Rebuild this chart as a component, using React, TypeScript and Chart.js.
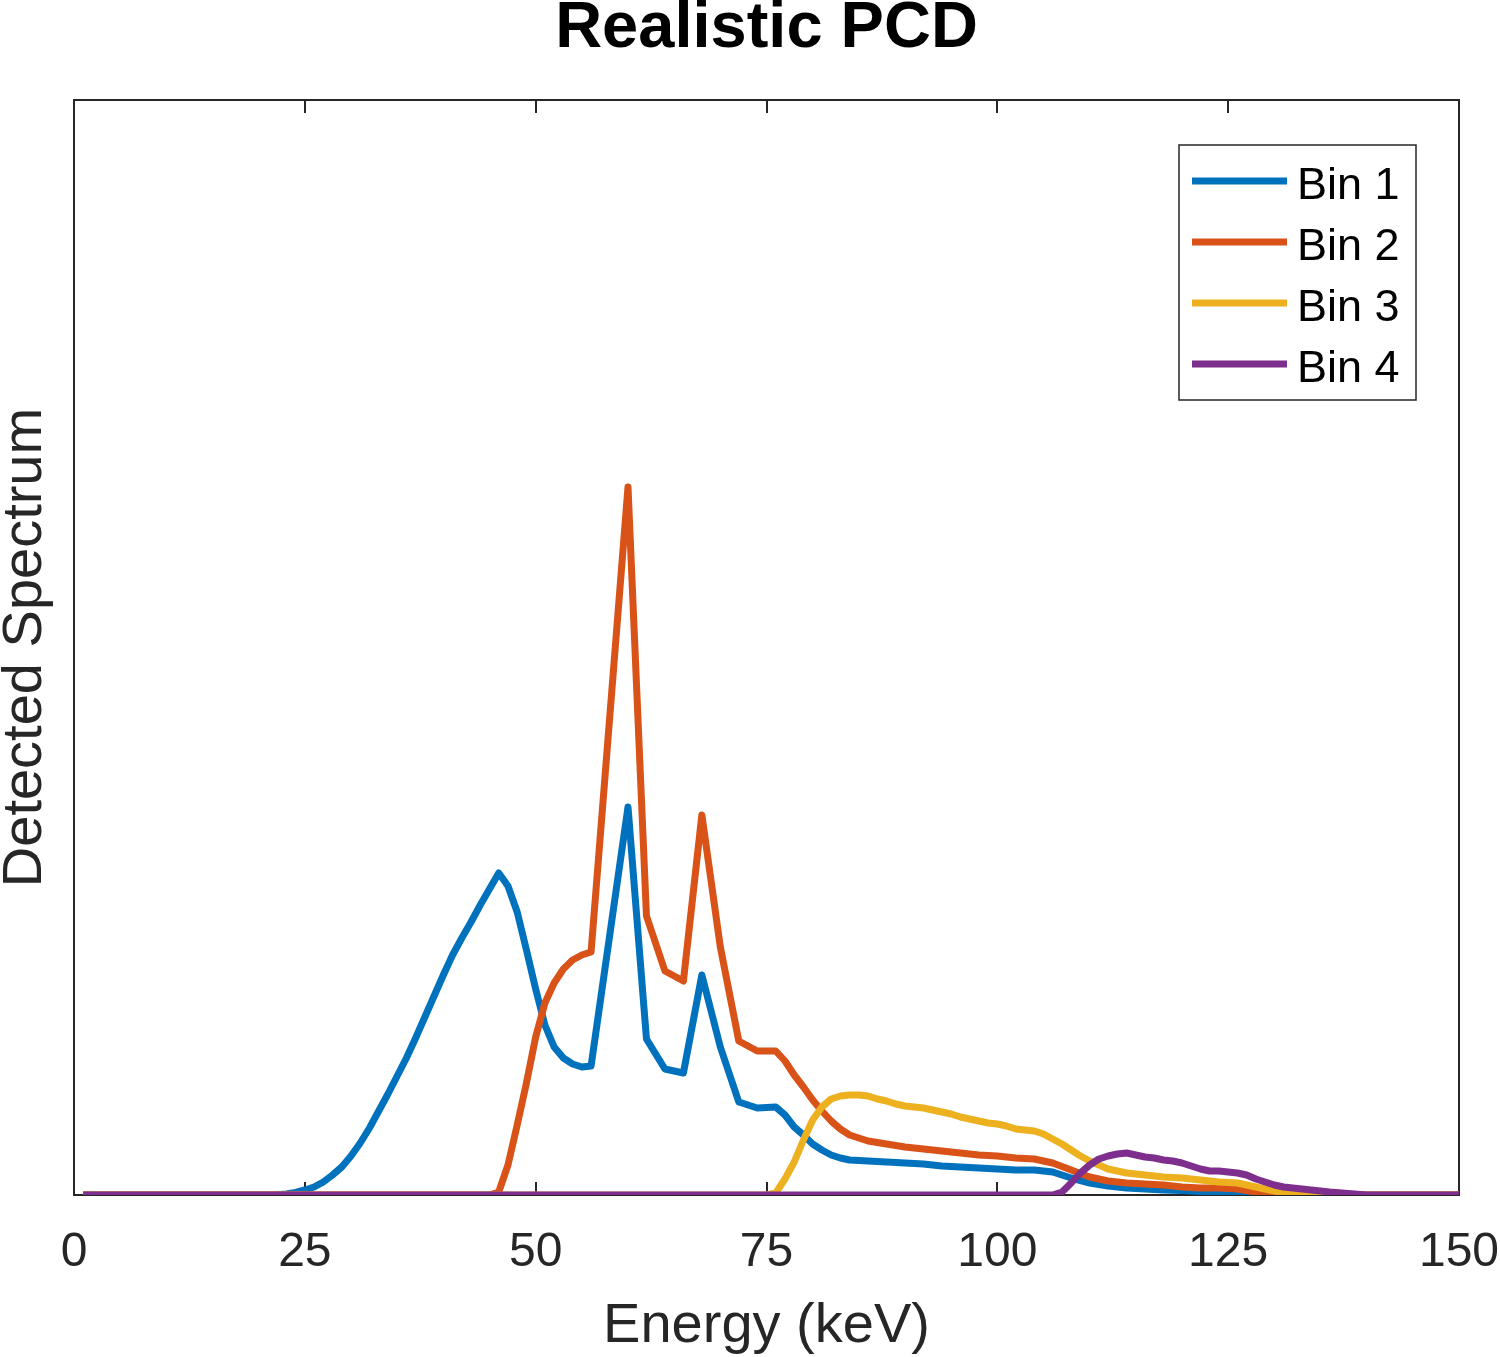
import React, { useEffect, useRef } from "react";
import { Chart, registerables } from "chart.js";

Chart.register(...registerables);

const FONT = '"Liberation Sans", Arial, Helvetica, sans-serif';

const chartTitle = "Realistic PCD";
const xAxisLabel = "Energy (keV)";
const yAxisLabel = "Detected Spectrum";
const xTicks = [0, 25, 50, 75, 100, 125, 150];
const xMin = 0;
const xMax = 150;
const yMax = 109.5;
const seriesLabels = ["Bin 1", "Bin 2", "Bin 3", "Bin 4"];
const seriesColors = ["#0072BD", "#D95319", "#EDB120", "#7E2F8E"];

// Bin 1
const bin1Energy = [1, 21, 22, 23, 24, 25, 26, 27, 28, 29, 30, 31, 32, 33, 34, 35, 36, 37, 38, 39, 40, 41, 42, 43, 44, 45, 46, 47, 48, 49, 50, 51, 52, 53, 54, 55, 56, 60, 62, 64, 66, 68, 70, 72, 74, 76, 77, 78, 79, 80, 81, 82, 83, 84, 86, 88, 90, 92, 94, 96, 98, 100, 102, 104, 106, 108, 110, 112, 114, 116, 118, 120, 122, 124, 126, 128, 130, 150];
const bin1Counts = [0, 0, 0.03, 0.1, 0.25, 0.5, 0.8, 1.3, 2.0, 2.8, 3.9, 5.2, 6.7, 8.4, 10.1, 11.9, 13.7, 15.7, 17.8, 19.9, 22.0, 24.0, 25.7, 27.3, 29.0, 30.6, 32.2, 30.9, 28.3, 24.5, 20.6, 17.0, 14.8, 13.7, 13.1, 12.8, 12.9, 38.8, 15.6, 12.6, 12.2, 22.0, 14.8, 9.3, 8.7, 8.8, 8.0, 6.8, 6.0, 5.1, 4.5, 4.0, 3.7, 3.5, 3.4, 3.3, 3.2, 3.1, 2.9, 2.8, 2.7, 2.6, 2.5, 2.5, 2.3, 1.7, 1.2, 0.9, 0.7, 0.6, 0.5, 0.45, 0.35, 0.25, 0.15, 0.05, 0, 0];

// Bin 2
const bin2Energy = [1, 45, 46, 47, 48, 49, 50, 51, 52, 53, 54, 55, 56, 60, 62, 64, 66, 68, 70, 72, 74, 76, 77, 78, 79, 80, 81, 82, 83, 84, 86, 88, 90, 92, 94, 96, 98, 100, 102, 104, 106, 108, 110, 112, 114, 116, 118, 120, 122, 124, 126, 128, 130, 132, 150];
const bin2Counts = [0, 0, 0.3, 3.0, 7.0, 11.2, 15.8, 19.2, 21.2, 22.6, 23.5, 24.0, 24.3, 70.8, 27.9, 22.4, 21.4, 38.0, 24.8, 15.4, 14.4, 14.4, 13.4, 12.0, 10.8, 9.5, 8.4, 7.4, 6.6, 6.0, 5.4, 5.1, 4.8, 4.6, 4.4, 4.2, 4.0, 3.9, 3.7, 3.6, 3.2, 2.5, 1.8, 1.4, 1.2, 1.1, 1.0, 0.8, 0.7, 0.7, 0.6, 0.3, 0.1, 0, 0];

// Bin 3
const bin3Energy = [1, 75, 76, 77, 78, 79, 80, 81, 82, 83, 84, 85, 86, 87, 88, 89, 90, 91, 92, 93, 94, 95, 96, 97, 98, 99, 100, 101, 102, 103, 104, 105, 106, 107, 108, 109, 110, 111, 112, 113, 114, 115, 116, 118, 120, 122, 124, 126, 128, 130, 132, 134, 150];
const bin3Counts = [0, 0, 0.2, 1.6, 3.3, 5.5, 7.5, 8.8, 9.6, 9.9, 10.0, 10.0, 9.9, 9.6, 9.4, 9.1, 8.9, 8.8, 8.7, 8.5, 8.3, 8.1, 7.8, 7.6, 7.4, 7.2, 7.1, 6.9, 6.6, 6.5, 6.4, 6.1, 5.6, 5.1, 4.5, 3.9, 3.4, 3.0, 2.6, 2.4, 2.2, 2.1, 2.0, 1.8, 1.7, 1.5, 1.3, 1.2, 0.8, 0.4, 0.1, 0, 0];

// Bin 4
const bin4Energy = [1, 106, 107, 108, 109, 110, 111, 112, 113, 114, 115, 116, 117, 118, 119, 120, 121, 122, 123, 124, 125, 126, 127, 128, 129, 130, 131, 132, 134, 136, 138, 140, 150];
const bin4Counts = [0, 0, 0.3, 1.2, 2.2, 3.0, 3.6, 3.9, 4.1, 4.2, 4.0, 3.8, 3.7, 3.5, 3.4, 3.2, 2.9, 2.6, 2.4, 2.4, 2.3, 2.2, 2.0, 1.6, 1.3, 1.0, 0.8, 0.7, 0.5, 0.3, 0.15, 0, 0];

const seriesEnergy = [bin1Energy, bin2Energy, bin3Energy, bin4Energy];
const seriesCounts = [bin1Counts, bin2Counts, bin3Counts, bin4Counts];

const AXIS_COLOR = "#262626";
const LINE_WIDTH = 7;

const boxPlugin = {
  id: "matlabBox",
  beforeDatasetsDraw(chart: any) {
    const { ctx, chartArea } = chart;
    const { left, right, top, bottom } = chartArea;
    const xs = chart.scales.x;
    ctx.save();
    ctx.strokeStyle = AXIS_COLOR;
    ctx.lineWidth = 2;
    ctx.strokeRect(left, top, right - left, bottom - top);
    ctx.beginPath();
    for (const t of xTicks) {
      const px = Math.round(xs.getPixelForValue(t));
      ctx.moveTo(px, bottom);
      ctx.lineTo(px, bottom - 13);
      ctx.moveTo(px, top);
      ctx.lineTo(px, top + 13);
    }
    ctx.stroke();
    ctx.restore();
  },
};

const legendPlugin = {
  id: "matlabLegend",
  afterDatasetsDraw(chart: any) {
    const { ctx } = chart;
    const bx = 1179, by = 145, bw = 237, bh = 255;
    ctx.save();
    ctx.fillStyle = "#ffffff";
    ctx.fillRect(bx, by, bw, bh);
    ctx.strokeStyle = AXIS_COLOR;
    ctx.lineWidth = 1.5;
    ctx.strokeRect(bx, by, bw, bh);
    const ds = chart.data.datasets;
    ds.forEach((d: any, i: number) => {
      const cy = 181 + i * 61;
      ctx.strokeStyle = d.borderColor;
      ctx.lineWidth = LINE_WIDTH;
      ctx.lineCap = "butt";
      ctx.beginPath();
      ctx.moveTo(1192, cy);
      ctx.lineTo(1287, cy);
      ctx.stroke();
      ctx.fillStyle = "#000000";
      ctx.font = `45px ${FONT}`;
      ctx.textBaseline = "alphabetic";
      ctx.textAlign = "left";
      ctx.fillText(d.label, 1297, cy + 18);
    });
    ctx.restore();
  },
};

export default function App() {
  const canvasRef = useRef<HTMLCanvasElement | null>(null);

  useEffect(() => {
    if (!canvasRef.current) return;
    const datasets = seriesLabels.map((label, i) => ({
      label,
      data: seriesEnergy[i].map((e, j) => ({ x: e, y: seriesCounts[i][j] })),
      borderColor: seriesColors[i],
      backgroundColor: seriesColors[i],
      borderWidth: LINE_WIDTH,
      pointRadius: 0,
      tension: 0,
      fill: false,
      borderJoinStyle: "round" as const,
      order: seriesLabels.length - i,
    }));

    const chart = new Chart(canvasRef.current, {
      type: "line",
      data: { datasets },
      options: {
        animation: false,
        responsive: false,
        maintainAspectRatio: false,
        parsing: false as any,
        layout: { padding: { left: 0, right: 41, top: 0, bottom: 0 } },
        plugins: {
          legend: { display: false },
          tooltip: { enabled: false },
          title: {
            display: true,
            text: chartTitle,
            fullSize: false,
            color: "#000000",
            font: { family: FONT, size: 65, weight: "bold", lineHeight: 0.84 },
            padding: { top: 2, bottom: 43.4 },
          },
        },
        scales: {
          x: {
            type: "linear",
            min: xMin,
            max: xMax,
            grid: { display: false, drawTicks: false },
            border: { display: false },
            ticks: {
              stepSize: 25,
              autoSkip: false,
              maxRotation: 0,
              color: AXIS_COLOR,
              padding: 28.5,
              font: { family: FONT, size: 48, lineHeight: 1.2 },
            },
            title: {
              display: true,
              text: xAxisLabel,
              color: AXIS_COLOR,
              font: { family: FONT, size: 56, lineHeight: 1.1 },
              padding: { top: 0, bottom: 0 },
            },
            afterFit: (scale: any) => {
              scale.height = 162;
              scale.paddingLeft = 0;
              scale.paddingRight = 0;
            },
          },
          y: {
            type: "linear",
            min: 0,
            max: yMax,
            grid: { display: false, drawTicks: false },
            border: { display: false },
            ticks: { display: false },
            title: {
              display: true,
              text: yAxisLabel,
              color: AXIS_COLOR,
              font: { family: FONT, size: 56, lineHeight: 0.9 },
              padding: { top: 0, bottom: 0 },
            },
            afterFit: (scale: any) => {
              scale.width = 74;
              scale.paddingTop = 0;
              scale.paddingBottom = 0;
            },
          },
        },
      },
      plugins: [boxPlugin, legendPlugin],
    });
    return () => chart.destroy();
  }, []);

  return (
    <div
      style={{
        position: "fixed",
        left: 0,
        top: 0,
        width: 1500,
        height: 1357,
        background: "#ffffff",
      }}
    >
      <canvas
        ref={canvasRef}
        width={1500}
        height={1357}
        style={{ display: "block", width: 1500, height: 1357 }}
      />
    </div>
  );
}
